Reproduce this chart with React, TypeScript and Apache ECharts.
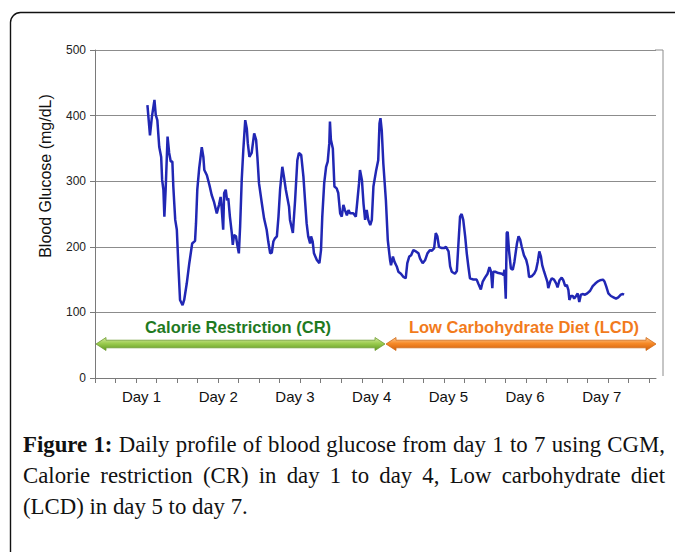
import React, { useEffect, useRef } from "react";
import * as echarts from "echarts";

// Time since start of the recording (hours) and blood glucose (mg/dL)
const timeHours = [
  16.4, 17.2, 17.8, 18.6, 19.0, 19.5, 20.1, 20.7, 21.0, 21.4, 21.7, 22.1, 22.7, 23.2, 23.7, 24.2, 24.5, 24.8, 25.1, 25.6,
  26.1, 26.6, 27.4, 27.9, 28.7, 29.5, 30.4, 31.3, 31.6, 32.0, 32.6, 33.4, 33.9, 34.2, 35.0, 35.8, 36.5, 37.2, 38.1, 38.8,
  39.3, 39.6, 40.1, 40.4, 40.9, 41.3, 41.7, 42.2, 42.8, 43.1, 43.5, 44.1, 44.5, 45.0, 45.4, 45.9, 46.4, 47.0, 47.5, 47.8,
  48.3, 49.0, 49.8, 50.4, 50.8, 51.3, 52.2, 52.9, 53.7, 54.2, 54.8, 55.3, 55.8, 56.3, 56.9, 57.4, 57.9, 58.6, 59.1, 59.7,
  60.2, 60.7, 61.0, 61.9, 62.6, 63.3, 63.8, 64.5, 65.2, 65.7, 66.2, 66.7, 67.3, 67.6, 68.1, 68.5, 69.4, 70.2, 70.7, 71.1,
  71.7, 72.3, 72.8, 73.3, 73.5, 73.8, 74.4, 74.9, 75.6, 76.1, 76.7, 77.2, 77.7, 78.2, 78.8, 79.3, 79.8, 80.8, 81.6, 82.1,
  82.6, 82.9, 83.5, 84.0, 84.5, 85.0, 85.5, 86.1, 86.6, 87.1, 87.9, 88.6, 89.0, 89.3, 89.7, 90.2, 91.0, 91.6, 92.3, 92.6,
  93.2, 93.7, 94.4, 94.9, 95.7, 96.5, 97.2, 97.7, 98.3, 98.9, 99.6, 100.4, 101.2, 101.7, 102.5, 103.3, 104.0, 104.8, 105.4, 106.1,
  106.6, 107.1, 107.6, 108.5, 109.2, 109.8, 110.6, 111.1, 111.6, 112.6, 113.2, 113.7, 114.2, 114.7, 115.2, 115.8, 116.3, 116.8, 117.3, 118.4,
  119.4, 119.9, 120.7, 121.3, 122.0, 122.8, 123.4, 123.9, 124.3, 124.6, 125.2, 126.2, 127.3, 127.8, 128.1, 128.5, 128.8, 129.1, 129.5, 130.1,
  130.7, 131.2, 132.0, 132.5, 133.0, 133.5, 134.2, 134.9, 135.4, 135.8, 136.6, 137.4, 138.0, 138.5, 139.0, 139.5, 139.9, 140.5, 141.1, 141.5,
  141.8, 142.4, 142.9, 143.6, 144.3, 144.7, 145.3, 146.0, 146.5, 147.1, 147.6, 148.1, 148.4, 148.9, 149.5, 149.9, 150.5, 151.0, 151.5, 152.0,
  152.5, 153.3, 154.0, 154.9, 155.7, 156.5, 157.2, 158.0, 158.9, 159.4, 159.9, 160.6, 161.4, 162.2, 163.0, 163.7, 164.5, 165.1, 165.5,
];
const glucose = [
  416, 370, 398, 424, 401, 393, 352, 337, 302, 287, 246, 287, 368, 343, 330, 330, 292, 266, 241, 226,
  170, 119, 111, 119, 144, 175, 205, 209, 236, 287, 320, 352, 337, 317, 309, 294, 279, 269, 251, 264,
  276, 261, 226, 282, 287, 271, 274, 246, 221, 203, 218, 216, 203, 190, 231, 302, 348, 393, 380, 358,
  337, 343, 373, 363, 337, 297, 266, 243, 226, 208, 190, 191, 208, 213, 216, 246, 287, 322, 307, 287,
  274, 261, 241, 221, 271, 332, 343, 340, 307, 271, 236, 216, 205, 216, 208, 190, 180, 175, 195, 246,
  297, 322, 330, 358, 391, 363, 350, 292, 289, 282, 251, 246, 264, 256, 248, 256, 251, 251, 246, 271,
  297, 317, 302, 266, 241, 256, 241, 233, 241, 292, 315, 332, 388, 396, 378, 327, 271, 210, 180, 172,
  185, 177, 170, 162, 159, 154, 152, 175, 185, 187, 195, 193, 190, 182, 175, 180, 190, 195, 194, 198,
  221, 216, 200, 198, 198, 200, 193, 170, 162, 159, 163, 205, 246, 250, 241, 216, 190, 170, 152, 150,
  150, 144, 135, 147, 153, 159, 169, 162, 137, 162, 162, 160, 159, 157, 165, 121, 221, 223, 195, 167,
  165, 177, 205, 216, 211, 200, 187, 180, 170, 154, 155, 159, 165, 177, 193, 185, 172, 162, 153, 147,
  137, 147, 152, 150, 144, 138, 149, 153, 149, 140, 142, 134, 119, 125, 125, 121, 125, 129, 116, 127,
  128, 127, 129, 133, 140, 144, 147, 149, 150, 147, 140, 129, 125, 123, 121, 123, 127, 128, 127,
];

const dayLabels = ["Day 1", "Day 2", "Day 3", "Day 4", "Day 5", "Day 6", "Day 7"];
const firstDayLabelHour = 14.55;
const hoursPerDay = 24;
const tickStepHours = 6.42;
const tickCount = 28;
const xMaxHours = 175.5;
const yTicks = [0, 100, 200, 300, 400, 500];

const phaseLabels = ["Calorie Restriction (CR)", "Low Carbohydrate Diet (LCD)"];
const captionLines = [
  "Figure 1: Daily profile of blood glucose from day 1 to 7 using CGM,",
  "Calorie restriction (CR) in day 1 to day 4, Low carbohydrate diet",
  "(LCD) in day 5 to day 7.",
];

const SERIF = '"Liberation Serif", "Times New Roman", serif';
const SANS = '"Liberation Sans", Arial, sans-serif';

function arrowPoints(x1: number, x2: number, cy: number) {
  const head = 10;
  const hh = 6.5;
  const sh = 3.8;
  return [
    [x1, cy],
    [x1 + head, cy - hh],
    [x1 + head, cy - sh],
    [x2 - head, cy - sh],
    [x2 - head, cy - hh],
    [x2, cy],
    [x2 - head, cy + hh],
    [x2 - head, cy + sh],
    [x1 + head, cy + sh],
    [x1 + head, cy + hh],
  ];
}

function captionGraphics(): any[] {
  const fontSize = 22.8;
  const left = 23;
  const right = 665;
  const lineYs = [444, 475, 506];
  const canvas = document.createElement("canvas");
  const ctx = canvas.getContext("2d")!;
  const out: any[] = [];
  captionLines.forEach((line, li) => {
    const words = line.split(" ");
    const fonts = words.map((_, wi) =>
      li === 0 && wi < 2 ? `bold ${fontSize}px ${SERIF}` : `${fontSize}px ${SERIF}`
    );
    const widths = words.map((w, wi) => {
      ctx.font = fonts[wi];
      return ctx.measureText(w).width;
    });
    ctx.font = `${fontSize}px ${SERIF}`;
    const spaceW = ctx.measureText(" ").width;
    const total = widths.reduce((a, b) => a + b, 0);
    const justify = li < captionLines.length - 1;
    let gap = justify ? (right - left - total) / (words.length - 1) : spaceW;
    let size = fontSize;
    let scale = 1;
    if (gap < spaceW * 0.8) {
      // shrink slightly if the line would overflow
      scale = (right - left - spaceW * 0.8 * (words.length - 1)) / total;
      gap = spaceW * 0.8;
    }
    let x = left;
    words.forEach((w, wi) => {
      const f = fonts[wi].replace(`${fontSize}px`, `${(size * scale).toFixed(2)}px`);
      out.push({
        type: "text",
        x,
        y: lineYs[li],
        silent: true,
        style: {
          text: w,
          font: f,
          fill: "#111",
          textAlign: "left",
          textVerticalAlign: "middle",
        },
      });
      x += widths[wi] * scale + gap;
    });
  });
  return out;
}

export default function App() {
  const ref = useRef<HTMLDivElement>(null);
  useEffect(() => {
    document.body.style.margin = "0";
    const chart = echarts.init(ref.current!, undefined, { renderer: "svg" });
    const data = timeHours.map((t, i) => [t, glucose[i]]);
    const tickValues = Array.from({ length: tickCount }, (_, i) => +(i * tickStepHours).toFixed(2));
    const labelValues = dayLabels.map((_, i) => firstDayLabelHour + hoursPerDay * i);

    const greenGrad = new echarts.graphic.LinearGradient(0, 0, 0, 1, [
      { offset: 0, color: "#d4eaa0" },
      { offset: 0.45, color: "#9ccc50" },
      { offset: 1, color: "#5f9a22" },
    ]);
    const orangeGrad = new echarts.graphic.LinearGradient(0, 0, 0, 1, [
      { offset: 0, color: "#fcc890" },
      { offset: 0.45, color: "#f78a28" },
      { offset: 1, color: "#d0600c" },
    ]);

    chart.setOption({
      animation: false,
      backgroundColor: "#fff",
      grid: { left: 95, right: 19, top: 50, bottom: 174, containLabel: false },
      xAxis: {
        type: "value",
        min: 0,
        max: xMaxHours,
        axisLine: { show: true, lineStyle: { color: "#7a7a7a", width: 1 } },
        axisTick: {
          show: true,
          length: 5,
          customValues: tickValues,
          lineStyle: { color: "#7a7a7a" },
        },
        axisLabel: {
          customValues: labelValues,
          formatter: (v: number) =>
            dayLabels[Math.round((v - firstDayLabelHour) / hoursPerDay)] ?? "",
          fontSize: 15,
          fontFamily: SANS,
          color: "#111",
          margin: 11,
        },
        splitLine: { show: false },
      },
      yAxis: {
        type: "value",
        min: yTicks[0],
        max: yTicks[yTicks.length - 1],
        interval: 100,
        axisLine: { show: true, lineStyle: { color: "#7a7a7a", width: 1 } },
        axisTick: { show: true, length: 5, lineStyle: { color: "#7a7a7a" } },
        axisLabel: { fontSize: 12, fontFamily: SANS, color: "#222", margin: 9 },
        splitLine: { show: true, lineStyle: { color: "#8c8c8c", width: 1 } },
      },
      series: [
        {
          type: "line",
          data,
          showSymbol: false,
          symbol: "none",
          lineStyle: { color: "#2127b4", width: 2.5 },
          z: 5,
        },
      ],
      graphic: [
        {
          type: "rect",
          shape: { x: 10.5, y: 12.5, width: 720, height: 620, r: 10 },
          style: { fill: "none", stroke: "#111", lineWidth: 1.4 },
          silent: true,
        },
        {
          type: "line",
          shape: { x1: 655, y1: 50, x2: 663, y2: 50 },
          style: { stroke: "#8c8c8c", lineWidth: 1 },
        },
        {
          type: "line",
          shape: { x1: 663, y1: 50, x2: 663, y2: 376 },
          style: { stroke: "#8c8c8c", lineWidth: 1 },
        },
        {
          type: "text",
          x: 45,
          y: 176,
          rotation: Math.PI / 2,
          style: {
            text: "Blood Glucose (mg/dL)",
            font: `16px ${SANS}`,
            fill: "#111",
            textAlign: "center",
            textVerticalAlign: "middle",
          },
        },
        {
          type: "polygon",
          shape: { points: arrowPoints(96, 385, 344) },
          style: { fill: greenGrad, stroke: "#6e9c34", lineWidth: 0.8 },
        },
        {
          type: "polygon",
          shape: { points: arrowPoints(386, 656, 344) },
          style: { fill: orangeGrad, stroke: "#d06a18", lineWidth: 0.8 },
        },
        {
          type: "text",
          x: 238,
          y: 327,
          style: {
            text: phaseLabels[0],
            font: `bold 16.5px ${SANS}`,
            fill: "#1f7a1f",
            textAlign: "center",
            textVerticalAlign: "middle",
          },
        },
        {
          type: "text",
          x: 524,
          y: 327,
          style: {
            text: phaseLabels[1],
            font: `bold 16.5px ${SANS}`,
            fill: "#f27b1c",
            textAlign: "center",
            textVerticalAlign: "middle",
          },
        },
        ...captionGraphics(),
      ],
    });
    return () => chart.dispose();
  }, []);
  return (
    <div
      ref={ref}
      style={{ position: "absolute", left: 0, top: 0, width: 675, height: 552, background: "#fff" }}
    />
  );
}
